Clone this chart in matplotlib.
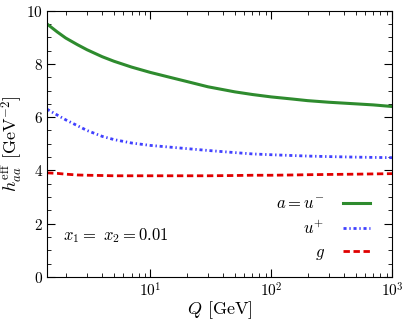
import matplotlib
matplotlib.use('Agg')
import matplotlib.pyplot as plt
from matplotlib.ticker import MultipleLocator

plt.rcParams['mathtext.fontset'] = 'cm'
plt.rcParams['font.family'] = 'serif'
plt.rcParams['font.serif'] = ['cmr10', 'DejaVu Serif']
plt.rcParams['axes.formatter.use_mathtext'] = True

# valores
Q = [1.4, 1.7, 2, 2.5, 3, 4, 5, 7, 10, 15, 20, 30, 50, 70, 100, 150, 200, 300, 500, 700, 1000]
h_minus = [9.5, 9.2, 8.97, 8.72, 8.53, 8.27, 8.1, 7.88, 7.68, 7.48, 7.34, 7.14, 6.95,
           6.85, 6.76, 6.68, 6.62, 6.56, 6.5, 6.46, 6.4]
h_plus = [6.3, 6.08, 5.9, 5.68, 5.5, 5.28, 5.16, 5.03, 4.94, 4.87, 4.82, 4.75, 4.67,
          4.62, 4.59, 4.56, 4.54, 4.52, 4.5, 4.49, 4.48]
h_g = [3.91, 3.89, 3.86, 3.83, 3.82, 3.81, 3.8, 3.8, 3.8, 3.8, 3.8, 3.8, 3.81,
       3.82, 3.82, 3.83, 3.84, 3.85, 3.86, 3.87, 3.88]

fig = plt.figure(figsize=(4.07, 3.21), dpi=100)
ax = fig.add_axes([0.1155, 0.137, 0.848, 0.83])

ax.plot(Q, h_minus, color='#2e8b2e', lw=2.2, label=r'$a = u^{-}$')
ax.plot(Q, h_plus, color='#4040ff', lw=2.0, ls=(0, (1.1, 1.0, 0.5, 1.0)), label=r'$u^{+}$')
ax.plot(Q, h_g, color='#e00000', lw=2.0, ls=(0, (2.3, 1.3)), label=r'$g$')

ax.set_xscale('log')
ax.set_xlim(1.4, 1000)
ax.set_ylim(0, 10)
ax.yaxis.set_major_locator(MultipleLocator(2))
ax.yaxis.set_minor_locator(MultipleLocator(0.5))
ax.tick_params(which='both', direction='in', top=True, right=True, labelsize=11, pad=3)
ax.tick_params(which='major', length=6)
ax.tick_params(which='minor', length=3)

ax.set_xlabel(r'$Q$ [GeV]', fontsize=13, labelpad=0)
ax.set_ylabel(r'$h_{aa}^{\rm eff}$ [GeV$^{-2}$]', fontsize=13, labelpad=1)

ax.text(0.045, 0.14, r'$x_1 =\ x_2 = 0.01$', transform=ax.transAxes, fontsize=12)

ax.legend(loc='lower right', frameon=False, markerfirst=False, fontsize=12,
          handlelength=1.6, handletextpad=1.1, labelspacing=0.45,
          bbox_to_anchor=(0.978, 0.0))

plt.savefig('out.png', dpi=100)
